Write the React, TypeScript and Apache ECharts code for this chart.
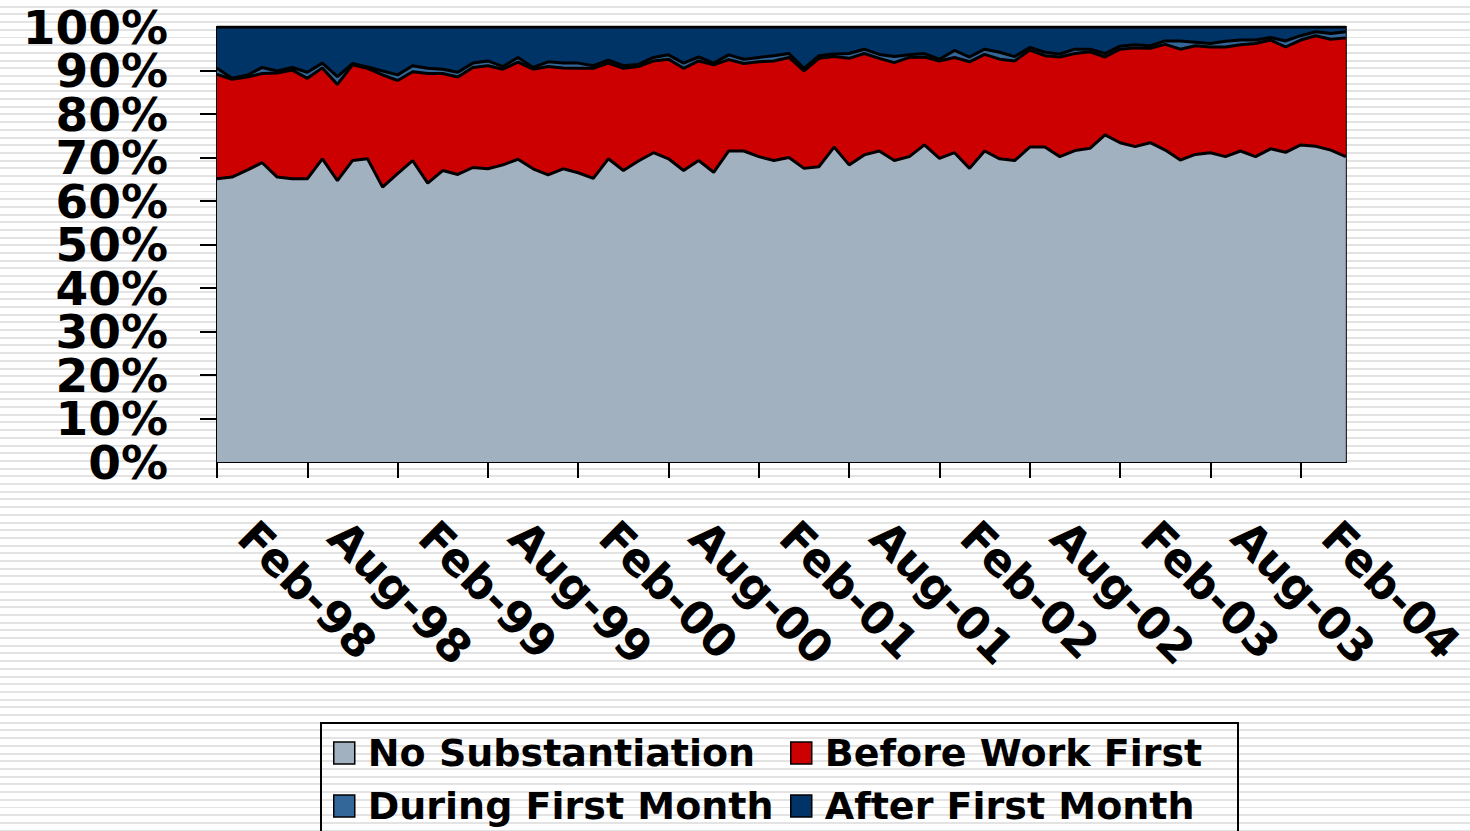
import React, { useEffect, useRef } from "react";
import * as echarts from "echarts";

const months = [
  "Feb-98", "Mar-98", "Apr-98", "May-98", "Jun-98", "Jul-98", "Aug-98", "Sep-98", "Oct-98", "Nov-98", "Dec-98",
  "Jan-99", "Feb-99", "Mar-99", "Apr-99", "May-99", "Jun-99", "Jul-99", "Aug-99", "Sep-99", "Oct-99", "Nov-99", "Dec-99",
  "Jan-00", "Feb-00", "Mar-00", "Apr-00", "May-00", "Jun-00", "Jul-00", "Aug-00", "Sep-00", "Oct-00", "Nov-00", "Dec-00",
  "Jan-01", "Feb-01", "Mar-01", "Apr-01", "May-01", "Jun-01", "Jul-01", "Aug-01", "Sep-01", "Oct-01", "Nov-01", "Dec-01",
  "Jan-02", "Feb-02", "Mar-02", "Apr-02", "May-02", "Jun-02", "Jul-02", "Aug-02", "Sep-02", "Oct-02", "Nov-02", "Dec-02",
  "Jan-03", "Feb-03", "Mar-03", "Apr-03", "May-03", "Jun-03", "Jul-03", "Aug-03", "Sep-03", "Oct-03", "Nov-03", "Dec-03",
  "Jan-04", "Feb-04", "Mar-04", "Apr-04", "May-04",
];

const noSubstantiation = [
  65.1, 65.5, 67.1, 68.8, 65.5, 65.1, 65.1, 69.7, 64.7, 69.3,
  69.7, 63.2, 66.3, 69.3, 64.1, 67.0, 66.1, 67.7, 67.4, 68.3,
  69.6, 67.4, 66.0, 67.4, 66.5, 65.2, 69.7, 67.0, 69.2, 71.1,
  69.7, 67.0, 69.3, 66.6, 71.5, 71.5, 70.2, 69.3, 70.0, 67.5,
  67.9, 72.4, 68.3, 70.6, 71.5, 69.3, 70.2, 72.9, 69.8, 71.1,
  67.5, 71.5, 69.7, 69.3, 72.4, 72.4, 70.2, 71.6, 72.1, 75.2,
  73.4, 72.5, 73.4, 71.7, 69.4, 70.7, 71.1, 70.2, 71.5, 70.2,
  72.0, 71.2, 72.9, 72.6, 71.7, 70.2,
];

const beforeWorkFirst = [
  24.0, 22.5, 21.4, 20.5, 23.9, 25.0, 23.1, 20.9, 22.1, 22.0,
  20.8, 25.8, 21.4, 20.4, 25.2, 22.3, 22.4, 23.0, 23.7, 22.0,
  22.3, 22.9, 24.9, 23.2, 24.0, 25.3, 22.0, 23.5, 21.7, 21.1,
  22.9, 23.5, 22.9, 24.7, 21.0, 20.1, 21.8, 22.9, 23.0, 22.4,
  24.9, 20.8, 24.5, 23.3, 21.3, 22.5, 22.8, 20.2, 22.4, 21.9,
  24.5, 22.2, 22.9, 22.9, 22.3, 21.0, 22.9, 22.3, 22.2, 17.9,
  21.5, 22.7, 21.7, 24.3, 25.5, 25.0, 24.3, 25.2, 24.4, 26.0,
  25.0, 24.2, 24.1, 25.4, 25.5, 27.3,
];

const duringFirstMonth = [
  1.4, 0.2, 0.4, 1.4, 0.5, 0.6, 1.4, 1.1, 1.8, 0.3,
  0.3, 0.9, 1.3, 1.4, 1.2, 1.0, 1.1, 1.0, 1.1, 0.6,
  1.1, 0.4, 1.1, 1.1, 1.2, 0.6, 0.7, 0.6, 0.5, 0.8,
  1.0, 1.2, 0.9, 0.4, 1.1, 1.0, 1.0, 1.2, 0.9, 0.6,
  0.6, 0.6, 1.1, 1.0, 0.9, 1.4, 0.6, 0.8, 0.4, 1.6,
  1.1, 1.2, 1.6, 1.0, 0.6, 0.8, 0.7, 1.0, 0.6, 0.8,
  0.7, 0.7, 0.6, 0.8, 1.9, 0.8, 0.8, 1.3, 1.1, 0.8,
  0.6, 1.4, 1.0, 0.9, 1.3, 1.4,
];

const afterFirstMonth = [
  9.5, 11.8, 11.1, 9.3, 10.1, 9.3, 10.4, 8.3, 11.4, 8.4,
  9.2, 10.1, 11.0, 8.9, 9.5, 9.7, 10.4, 8.3, 7.8, 9.1,
  7.0, 9.3, 8.0, 8.3, 8.3, 8.9, 7.6, 8.9, 8.6, 7.0,
  6.4, 8.3, 6.9, 8.3, 6.4, 7.4, 7.0, 6.6, 6.1, 9.5,
  6.6, 6.2, 6.1, 5.1, 6.3, 6.8, 6.4, 6.1, 7.4, 5.4,
  6.9, 5.1, 5.8, 6.8, 4.7, 5.8, 6.2, 5.1, 5.1, 6.1,
  4.4, 4.1, 4.3, 3.2, 3.2, 3.5, 3.8, 3.3, 3.0, 3.0,
  2.4, 3.2, 2.0, 1.1, 1.5, 1.1,
];

const seriesNames = ["No Substantiation", "Before Work First", "During First Month", "After First Month"];
const seriesData = [noSubstantiation, beforeWorkFirst, duringFirstMonth, afterFirstMonth];
const seriesColors = ["#A2B1C0", "#CC0000", "#336699", "#003366"];

const FONT = "'DejaVu Sans', Verdana, sans-serif";
const everySixth = (index: number) => index % 6 === 0;

export default function App() {
  const ref = useRef<HTMLDivElement>(null);

  useEffect(() => {
    if (!ref.current) return;
    const chart = echarts.init(ref.current, null, { renderer: "svg" });

    const areaSeries = seriesNames.map((name, k) => ({
      type: "line",
      name,
      stack: "area",
      data: seriesData[k],
      symbol: "none",
      showSymbol: false,
      itemStyle: { color: seriesColors[k] },
      lineStyle: { width: 0, color: seriesColors[k] },
      areaStyle: { color: seriesColors[k], opacity: 1 },
      z: 2,
    }));
    const lineSeries = seriesNames.map((name, k) => ({
      type: "line",
      name,
      stack: "outline",
      data: seriesData[k],
      symbol: "none",
      showSymbol: false,
      itemStyle: { color: seriesColors[k] },
      lineStyle: { width: 3, color: "#000" },
      z: 3,
    }));

    const legendBase = {
      orient: "vertical",
      top: 733,
      height: 150,
      padding: 0,
      itemWidth: 21,
      itemHeight: 22,
      itemGap: 13,
      icon: "rect",
      selectedMode: false,
      itemStyle: { borderColor: "#000", borderWidth: 1.5 },
      textStyle: {
        fontFamily: FONT,
        fontWeight: "bold",
        fontSize: 38,
        color: "#000",
        lineHeight: 40,
        padding: [0, 0, 0, 8],
      },
    };

    const yLabelStyle = {
      formatter: "{value}%",
      margin: 49,
      color: "#000",
      fontFamily: FONT,
      fontWeight: "bold",
      fontSize: 47,
      lineHeight: 30,
    };

    chart.setOption({
      animation: false,
      grid: {
        left: 217,
        top: 27,
        width: 1130,
        height: 435,
        show: true,
        borderColor: "#000",
        borderWidth: 2,
        backgroundColor: "transparent",
      },
      xAxis: {
        type: "category",
        boundaryGap: false,
        data: months,
        axisLine: { lineStyle: { color: "#000", width: 2 } },
        axisTick: { show: true, interval: everySixth, length: 16, lineStyle: { color: "#000", width: 2 } },
        axisLabel: {
          interval: everySixth,
          rotate: -45,
          margin: 38,
          padding: [0, 0, 0, 41],
          color: "#000",
          fontFamily: FONT,
          fontWeight: "bold",
          fontSize: 45,
        },
        splitLine: { show: false },
      },
      yAxis: [
        {
          type: "value",
          position: "left",
          min: 0,
          max: 100,
          interval: 10,
          axisLine: { show: true, lineStyle: { color: "#000", width: 2 } },
          axisTick: { show: true, length: 17, lineStyle: { color: "#000", width: 2 } },
          axisLabel: { ...yLabelStyle, showMinLabel: false, showMaxLabel: false },
          splitLine: { show: false },
        },
        {
          type: "value",
          position: "left",
          offset: 0,
          min: 0,
          max: 100,
          interval: 100,
          axisLine: { show: false },
          axisTick: { show: false },
          axisLabel: { ...yLabelStyle, showMinLabel: true, showMaxLabel: true },
          splitLine: { show: false },
        },
      ],
      legend: [
        { ...legendBase, left: 333, data: [seriesNames[0], seriesNames[2]] },
        { ...legendBase, left: 790, data: [seriesNames[1], seriesNames[3]] },
      ],
      graphic: [
        {
          type: "rect",
          silent: true,
          shape: { x: 321, y: 723, width: 917, height: 140 },
          style: { fill: "none", stroke: "#000", lineWidth: 2 },
        },
      ],
      series: [...areaSeries, ...lineSeries],
    });

    return () => chart.dispose();
  }, []);

  return (
    <div
      ref={ref}
      style={{
        position: "absolute",
        left: 0,
        top: 0,
        width: 1470,
        height: 831,
        background:
          "repeating-linear-gradient(to bottom, #ffffff 0px, #ffffff 5.7px, #e3e3e3 5.7px, #e3e3e3 7.7px)",
      }}
    />
  );
}
